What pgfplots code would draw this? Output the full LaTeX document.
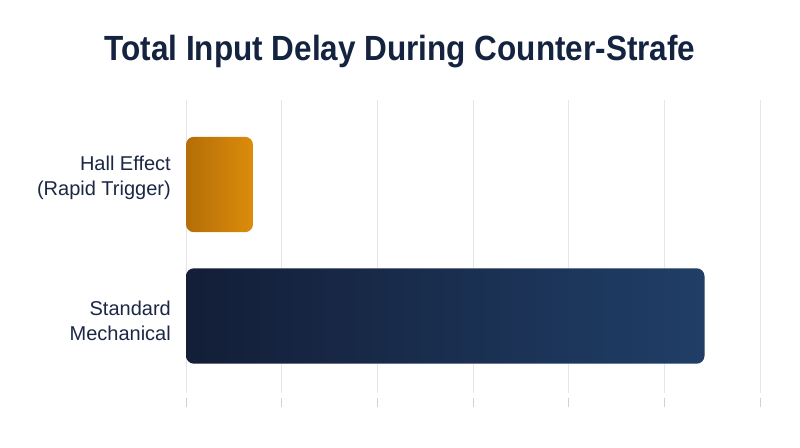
\documentclass[border=0pt]{standalone}
\usepackage{fontspec}
\setmainfont{Liberation Sans}
\usepackage{graphicx}
\usepackage{pgfplots}
\pgfplotsset{compat=1.18}

\definecolor{titlenavy}{HTML}{14233F}
\definecolor{labelnavy}{HTML}{1B2744}
\definecolor{gridgray}{HTML}{E6E6E6}
\definecolor{axisgray}{HTML}{C4C4C4}
\definecolor{hallL}{HTML}{B46E08}
\definecolor{hallR}{HTML}{DC8C0A}
\definecolor{mechL}{HTML}{131E37}
\definecolor{mechR}{HTML}{203E67}

\begin{document}
\begin{tikzpicture}[x=1pt,y=1pt]
\useasboundingbox (0,0) rectangle (800,447);

\node[anchor=base, text=titlenavy, font=\fontsize{35}{40}\selectfont\bfseries]
  at (400,386) {\scalebox{0.9}[1]{Total Input Delay During Counter-Strafe}};

\begin{axis}[
    at={(186pt,54pt)}, anchor=south west,
    scale only axis,
    width=574pt, height=293pt,
    xmin=0.1, xmax=6.1,               % bars start at 0, left edge clipped so only the right corners are round
    ymin=-0.5856, ymax=1.6426,
    axis line style={draw=none},
    xtick={1.1,2.1,...,6.1},
    extra x ticks={0.1},
    extra x tick style={grid style={axisgray, line width=0.9pt}},
    xticklabels={}, extra x tick labels={},
    xtick pos=bottom,
    tick align=outside,
    major tick length=9pt,
    xtick style={draw=gridgray!80!gray, line width=0.8pt, yshift=-5pt},
    xmajorgrids,
    major grid style={gridgray, line width=0.8pt},
    ytick={-0.038,1.049},             % labels sit a little off the bar centres
    yticklabels={{Standard\\Mechanical},{Hall Effect\\(Rapid Trigger)}},
    ytick style={draw=none},
    yticklabel style={align=right, inner sep=0pt, xshift=-6pt, text=labelnavy,
                      font=\fontsize{20}{25}\selectfont},
    xbar, bar width=0.726, bar shift=0pt,
    x filter/.expression={x+0.1},
]
\addplot[draw=none, left color=hallL, right color=hallR, rounded corners=8pt]
  coordinates {(0.70,1)};
\addplot[draw=none, left color=mechL, right color=mechR, rounded corners=8pt]
  coordinates {(5.42,0)};
\end{axis}
\end{tikzpicture}
\end{document}
